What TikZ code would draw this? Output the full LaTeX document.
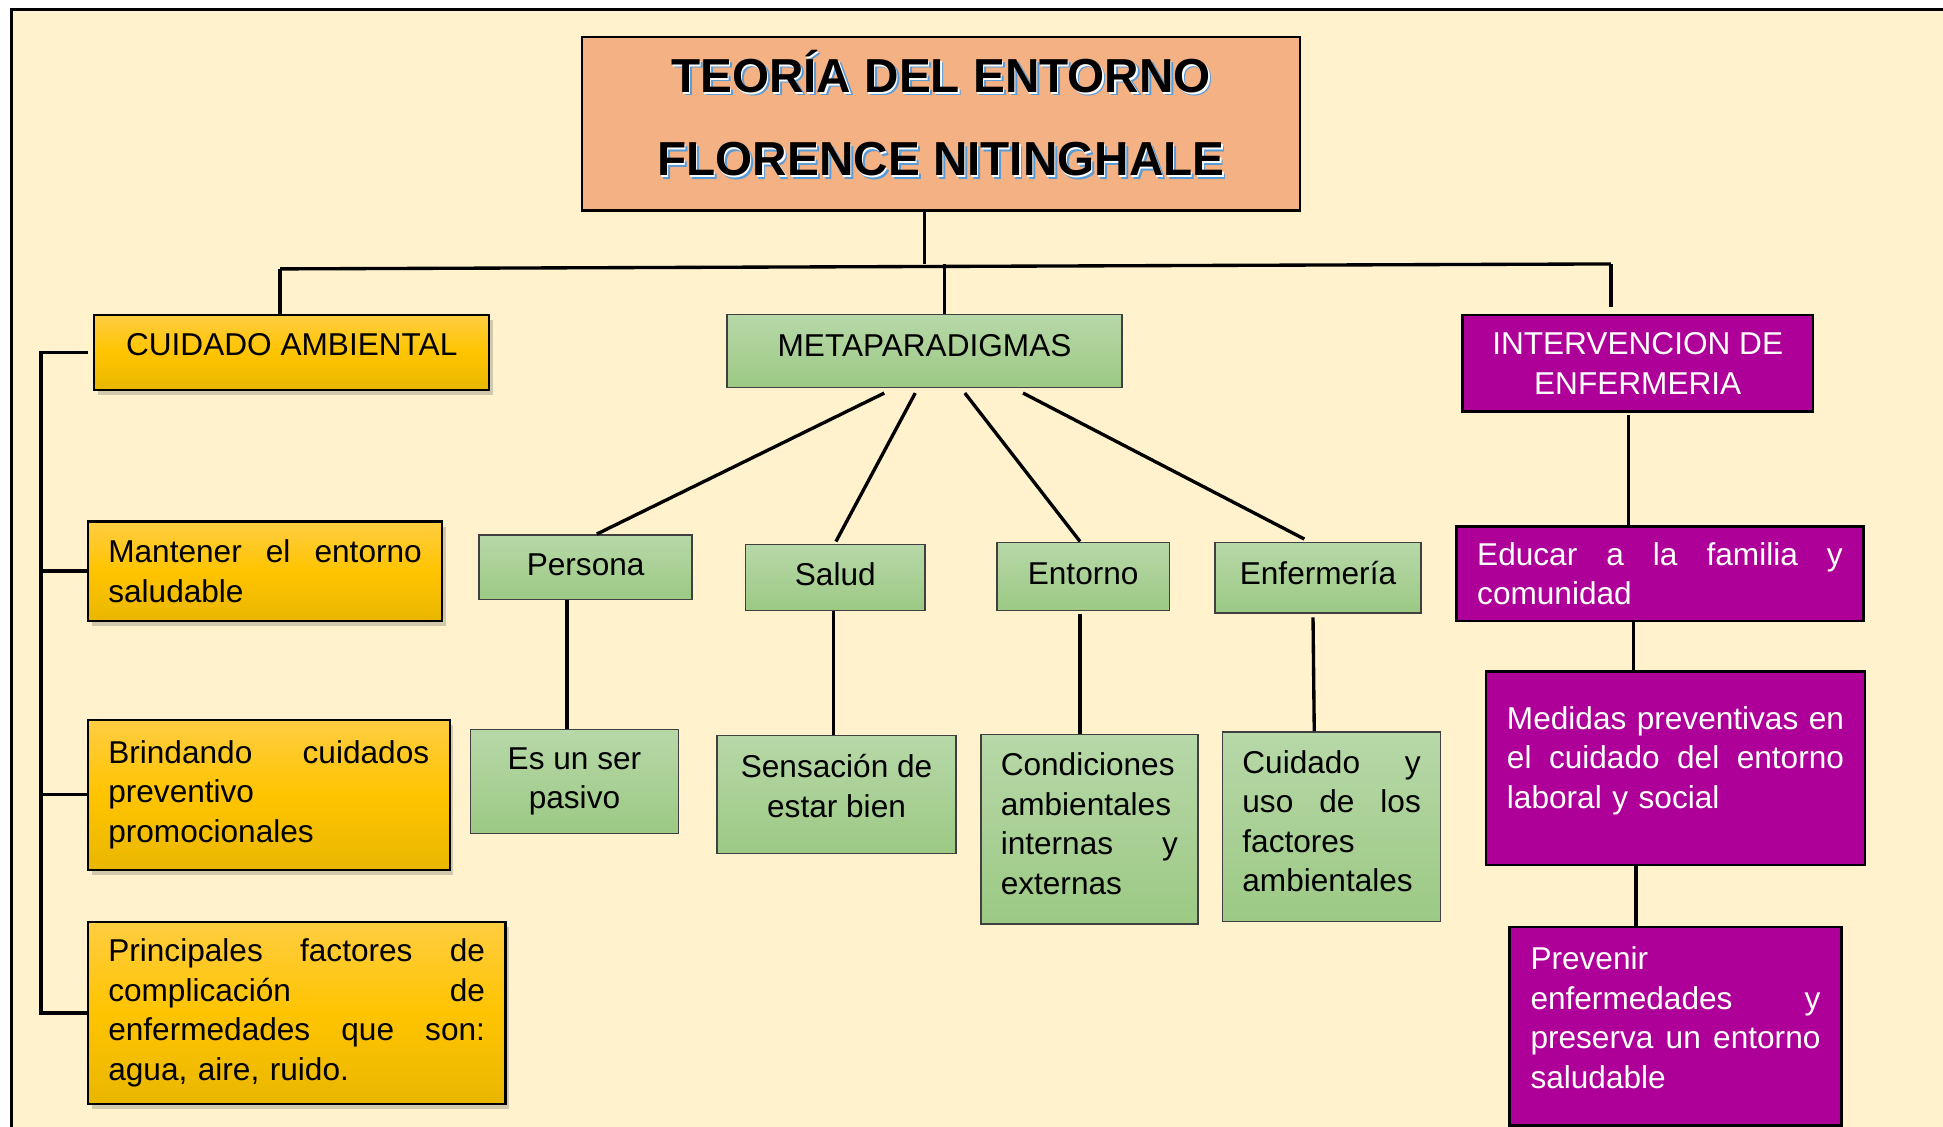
\documentclass[tikz,border=0pt]{standalone}
\usepackage{fontspec}
\setmainfont{Liberation Sans}
\usetikzlibrary{shadows,calc}
\definecolor{cream}{HTML}{FFF2CC}
\definecolor{salmon}{HTML}{F4B183}
\definecolor{goldtop}{HTML}{FFCD42}
\definecolor{goldmid}{HTML}{FFC400}
\definecolor{goldbot}{HTML}{E9B700}
\definecolor{greentop}{HTML}{B7D8A8}
\definecolor{greenbot}{HTML}{9CC984}
\definecolor{purp}{HTML}{AE0098}
\definecolor{shblue}{HTML}{5B9BD5}
\newcommand\jl[2]{{\spaceskip=0.28em plus 20em\xspaceskip=\spaceskip\makebox[#1][s]{#2}}}
\newcommand\titletext[1]{\makebox[0pt][l]{\hspace{2.5pt}\raisebox{-2.5pt}{\color{shblue}#1}}\makebox[0pt][l]{\hspace{1pt}\raisebox{-1pt}{\color{white}#1}}#1}
\tikzset{
  base/.style={rectangle, inner sep=0pt, anchor=north west, font=\fontsize{25.5}{32}\selectfont},
  goldbox/.style={base, draw=black, line width=1.8pt, top color=goldtop, bottom color=goldbot, middle color=goldmid,
     drop shadow={shadow xshift=3pt, shadow yshift=-4pt, opacity=0.25, fill=black!70}},
  greenbox/.style={base, draw=black!75, line width=1.2pt, top color=greentop, bottom color=greenbot},
  purpbox/.style={base, draw=black, line width=2.2pt, fill=purp, text=white},
  conn/.style={draw=black, line width=2.7pt}
}
\begin{document}
\begin{tikzpicture}[x=1pt,y=1pt]
\useasboundingbox (0,0) rectangle (1568,-909);
\clip (0,0) rectangle (1568,-909);
\fill[white] (0,0) rectangle (1568,-909);
\fill[cream] (9,-8) rectangle (1580,-920);
\draw[line width=2.5pt] (1580,-8) -- (9,-8) -- (9,-920);

% title
\node[base, draw=black, line width=1.8pt, fill=salmon, minimum width=579pt, minimum height=140pt,
  font=\fontsize{38.5}{67}\selectfont\bfseries, align=center, text depth=17pt] (title) at (469,-29)
  {\titletext{TEORÍA DEL ENTORNO}\\\titletext{FLORENCE NITINGHALE}};

% left column
\node[goldbox, minimum width=319pt, minimum height=61pt, text height=18.4pt, text depth=13pt] (cuidado) at (75,-253) {CUIDADO AMBIENTAL};
\node[goldbox, minimum width=286pt, minimum height=80pt, text width=253pt, align=left] (mant) at (70,-420)
  {\jl{253pt}{Mantener el entorno}\\saludable};
\node[goldbox, minimum width=292pt, minimum height=121pt, text width=259pt, align=left] (brind) at (70,-580)
  {\jl{259pt}{Brindando cuidados}\\preventivo\\promocionales};
\node[goldbox, minimum width=337pt, minimum height=147pt, text width=304pt, align=left] (princ) at (70,-743)
  {\jl{304pt}{Principales factores de}\\\jl{304pt}{complicación de}\\\jl{304pt}{enfermedades que son:}\\agua, aire, ruido.};

% middle column
\node[greenbox, minimum width=319pt, minimum height=59pt, text height=18.4pt, text depth=9pt] (meta) at (586,-253) {METAPARADIGMAS};
\node[greenbox, minimum width=172pt, minimum height=52pt, text height=18.4pt, text depth=5.4pt] (persona) at (386,-431) {Persona};
\node[greenbox, minimum width=145pt, minimum height=53pt, text height=18.4pt, text depth=5.4pt] (salud) at (601,-439) {Salud};
\node[greenbox, minimum width=139pt, minimum height=55pt, text height=18.4pt, text depth=5.4pt] (entorno) at (804,-437) {Entorno};
\node[greenbox, minimum width=166pt, minimum height=57pt, text height=18.4pt, text depth=7pt] (enferm) at (980,-437) {Enfermería};

\node[greenbox, minimum width=168pt, minimum height=84pt, align=center] (esun) at (379,-588) {Es un ser\\pasivo};
\node[greenbox, minimum width=193pt, minimum height=95pt, align=center, text depth=14pt] (sens) at (578,-593) {Sensación de\\estar bien};
\node[greenbox, minimum width=175pt, minimum height=153pt, text width=143pt, align=left, text depth=105pt] (cond) at (791,-592)
  {Condiciones\\ambientales\\\jl{143pt}{internas y}\\externas};
\node[greenbox, minimum width=176pt, minimum height=153pt, text width=144pt, align=left, text depth=105pt] (cuid) at (986,-590)
  {\jl{144pt}{Cuidado y}\\\jl{144pt}{uso de los}\\factores\\ambientales};

% right column
\node[purpbox, minimum width=283pt, minimum height=78pt, align=center] (interv) at (1179,-253) {INTERVENCION DE\\ENFERMERIA};
\node[purpbox, minimum width=329pt, minimum height=76pt, text width=295pt, align=left] (educ) at (1174,-424)
  {\jl{295pt}{Educar a la familia y}\\comunidad};
\node[purpbox, minimum width=306pt, minimum height=156pt, text width=272pt, align=left, text depth=82pt] (med) at (1198,-541)
  {\jl{272pt}{Medidas preventivas en}\\\jl{272pt}{el cuidado del entorno}\\laboral y social};
\node[purpbox, minimum width=268pt, minimum height=160pt, text width=234pt, align=left, text depth=110pt] (prev) at (1217,-747)
  {Prevenir\\\jl{234pt}{enfermedades y}\\\jl{234pt}{preserva un entorno}\\saludable};

% connectors from title
\coordinate (jt) at (746,-213);
\coordinate (jl) at (226,-217);
\coordinate (jm) at (762,-213);
\coordinate (jr) at (1300,-213);
\coordinate (bx) at (33,-284);
\draw[conn] (title.south -| jt) -- (jt);
\draw[conn] (jl) -- (jr);
\draw[conn] (jl) -- (jl |- cuidado.north);
\draw[conn] (jm) -- (jm |- meta.north);
\coordinate (jrend) at ($(jr |- interv.north)+(0,5)$);
\draw[conn] (jr) -- (jrend);

% left bracket
\draw[conn] ($(cuidado.west)+(-4,0)$) -- (cuidado.west -| bx) -- (princ.west -| bx) -- (princ.west);
\draw[conn] (mant.west -| bx) -- (mant.west);
\draw[conn] (brind.west -| bx) -- (brind.west);

% metaparadigmas fan
\draw[conn] ($(meta.south)+(-32.5,-4)$) -- ($(persona.north)+(9,0)$);
\draw[conn] ($(meta.south)+(-7.5,-4)$) -- ($(salud.north)+(0.5,2)$);
\draw[conn] ($(meta.south)+(32.5,-4)$) -- ($(entorno.north)+(-2.5,0)$);
\draw[conn] ($(meta.south)+(79.5,-4)$) -- ($(enferm.north)+(-11,2)$);

% verticals to descriptions
\coordinate (c1) at ($(persona.south)+(-15,0)$);
\draw[conn] (c1) -- (c1 |- esun.north);
\coordinate (c2) at ($(salud.south)+(-1.5,0)$);
\draw[conn] (c2) -- (c2 |- sens.north);
\coordinate (c3) at ($(entorno.south)+(-2.5,-2)$);
\draw[conn] (c3) -- (c3 |- cond.north);
\draw[conn] ($(enferm.south)+(-4,-3)$) -- ($(cuid.north)+(-14,0)$);

% right verticals
\coordinate (r1) at ($(interv.south)+(-7.5,-2)$);
\draw[conn] (r1) -- (r1 |- educ.north);
\coordinate (r2) at ($(educ.south)+(-21.5,0)$);
\draw[conn] (r2) -- (r2 |- med.north);
\coordinate (r3) at ($(med.south)+(-32,0)$);
\draw[conn] (r3) -- (r3 |- prev.north);
\end{tikzpicture}
\end{document}
